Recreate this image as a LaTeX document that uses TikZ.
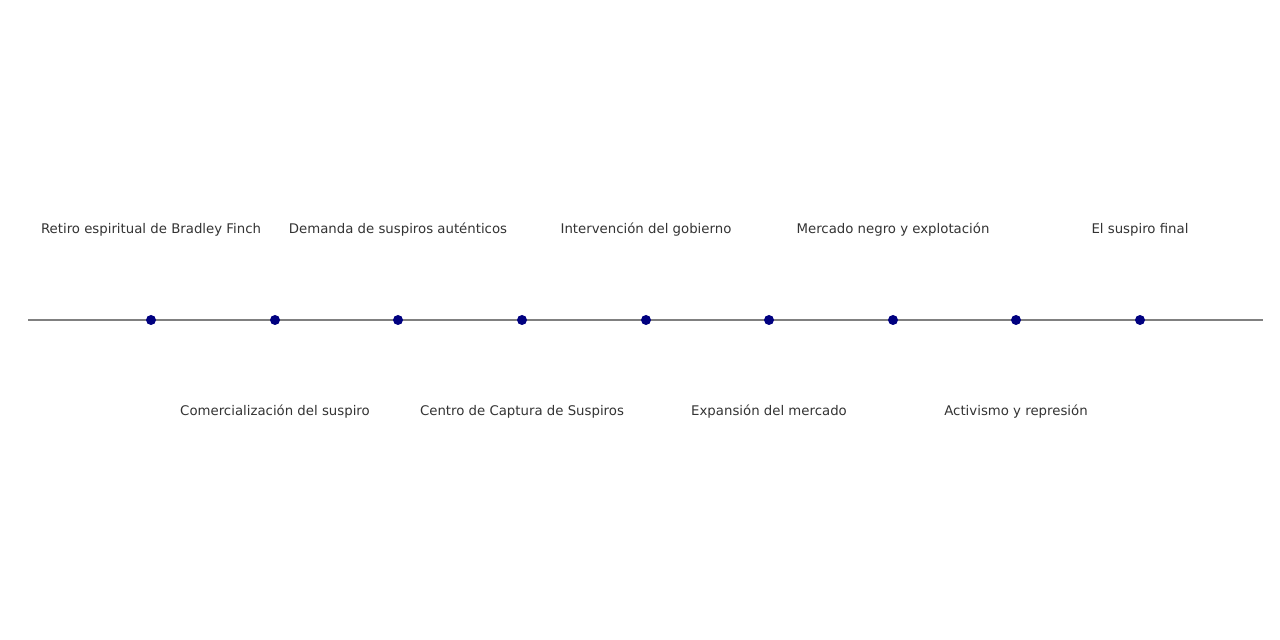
\documentclass[tikz,border=0pt]{standalone}
\usepackage{fontspec}
\setmainfont{DejaVu Sans}
\begin{document}
\begin{tikzpicture}[x=1pt,y=1pt,
  ev/.style={circle,fill={rgb,255:red,0;green,0;blue,128},inner sep=0pt,minimum size=10pt},
  lab/.style={text={rgb,255:red,51;green,51;blue,51},font=\fontsize{13.3}{15}\selectfont,inner sep=0pt,anchor=base},
  axis/.style={draw={rgb,255:red,128;green,128;blue,128},line width=2pt}]
\useasboundingbox (0,0) rectangle (1280,640);
\coordinate (L) at (28,320);
\coordinate (R) at (1263,320);
\draw[axis] (L) -- (R);
\foreach \i/\x in {1/151,2/275,3/398,4/522,5/646,6/769,7/893,8/1016,9/1140}{
  \node[ev] (d\i) at (\x,320) {};
}
\node[lab] (t1) at (151,406) {Retiro espiritual de Bradley Finch};
\node[lab] (t3) at (398,406) {Demanda de suspiros auténticos};
\node[lab] (t5) at (646,406) {Intervención del gobierno};
\node[lab] (t7) at (893,406) {Mercado negro y explotación};
\node[lab] (t9) at (1140,406) {El suspiro final};
\node[lab] (t2) at (275,224) {Comercialización del suspiro};
\node[lab] (t4) at (522,224) {Centro de Captura de Suspiros};
\node[lab] (t6) at (769,224) {Expansión del mercado};
\node[lab] (t8) at (1016,224) {Activismo y represión};
\end{tikzpicture}
\end{document}
